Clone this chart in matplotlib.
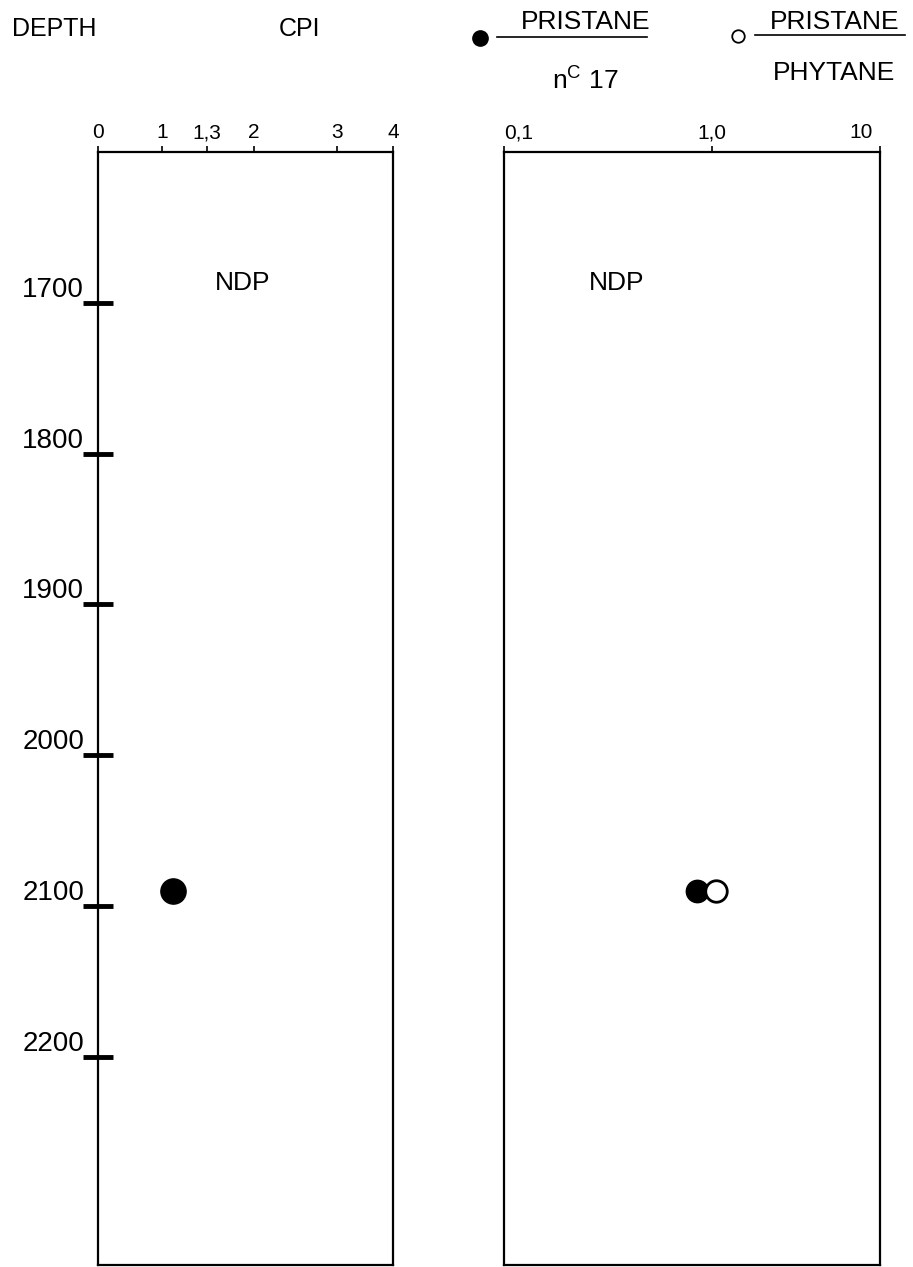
import numpy as np
import matplotlib
matplotlib.use("Agg")
import matplotlib.pyplot as plt
from matplotlib.lines import Line2D
from matplotlib.transforms import ScaledTranslation

plt.rcParams['font.family'] = ['Liberation Sans', 'DejaVu Sans']

# ---- data ----
depth_ticks = [1700, 1800, 1900, 2000, 2100, 2200]
cpi_ticks = [0, 1, 1.3, 2, 3, 4]
cpi_tick_labels = ["0", "1", "1,3", "2", "3", "4"]
ratio_ticks = [0.1, 1.0, 10]
ratio_tick_labels = ["0,1", "1,0", "10"]

sample_depth = [2090]
cpi_values = [1.07]
pristane_nc17 = [0.85]
pristane_phytane = [1.06]

W, H = 913, 1267
fig = plt.figure(figsize=(W / 100, H / 100), dpi=100)

def box(x0, y0, x1, y1):
    return [x0 / W, 1 - y1 / H, (x1 - x0) / W, (y1 - y0) / H]

ax1 = fig.add_axes(box(98, 152, 393, 1265))
ax2 = fig.add_axes(box(504, 152, 880, 1265))

# hand-drawn (uneven) scales of the original, reproduced via interpolation
k_cpi = [0, 1, 1.3, 2, 3, 4]
p_cpi = [0, 64, 109, 156, 239, 295]
ax1.set_xscale('function', functions=(lambda x: np.interp(x, k_cpi, p_cpi),
                                      lambda y: np.interp(y, p_cpi, k_cpi)))
k_log = [-1, 0, 1]
p_log = [0, 208, 376]
ax2.set_xscale('function', functions=(
    lambda x: np.interp(np.log10(np.clip(x, 1e-9, None)), k_log, p_log),
    lambda y: 10 ** np.interp(y, p_log, k_log)))

ax1.set_xlim(0, 4)
ax2.set_xlim(0.1, 10)
for ax in (ax1, ax2):
    ax.set_ylim(2338, 1600)
    for s in ax.spines.values():
        s.set_linewidth(1.6)
    ax.xaxis.tick_top()
    ax.tick_params(axis='x', direction='out', length=4, width=1.2, pad=3)

ax1.set_xticks(cpi_ticks)
ax1.set_xticklabels(cpi_tick_labels, fontsize=15)
ax2.set_xticks(ratio_ticks)
ax2.set_xticklabels(ratio_tick_labels, fontsize=15)
ax2.xaxis.set_minor_locator(matplotlib.ticker.NullLocator())
ax2.xaxis.set_minor_formatter(matplotlib.ticker.NullFormatter())
labs = ax2.get_xticklabels()
labs[0].set_ha('left')
labs[2].set_ha('right')
labs[2].set_transform(labs[2].get_transform() +
                      ScaledTranslation(-7 / 100, 0, fig.dpi_scale_trans))

ax1.set_yticks(depth_ticks)
ax1.set_yticklabels([str(d) for d in depth_ticks])
ax1.tick_params(axis='y', direction='inout', length=22, width=3.5,
                labelsize=20, pad=-1, right=False)
for lab in ax1.get_yticklabels():
    lab.set_va('bottom')
ax2.set_yticks([])

# data marks
ax1.scatter(cpi_values, sample_depth, s=330, color='black', zorder=3)
ax2.scatter(pristane_nc17, sample_depth, s=260, color='black', zorder=3)
ax2.scatter(pristane_phytane, sample_depth, s=240, facecolor='white',
            edgecolor='black', linewidth=2, zorder=3)

ax1.text(0.49, 0.882, "NDP", transform=ax1.transAxes, ha='center', va='center', fontsize=19)
ax2.text(0.30, 0.882, "NDP", transform=ax2.transAxes, ha='center', va='center', fontsize=19)

# header
def ft(x, y, s, **kw):
    fig.text(x / W, 1 - y / H, s, **kw)

ft(12, 29, "DEPTH", fontsize=18, va='center', ha='left')
ft(300, 29, "CPI", fontsize=18, va='center', ha='center')
ft(586, 22, "PRISTANE", fontsize=19, va='center', ha='center')
ft(585, 80, r"n$^{\mathregular{C}}$ 17", fontsize=19, va='center', ha='center')
ft(835, 22, "PRISTANE", fontsize=19, va='center', ha='center')
ft(834, 73, "PHYTANE", fontsize=19, va='center', ha='center')

fig.add_artist(Line2D([497 / W, 647 / W], [1 - 37 / H] * 2, color='black', lw=1.2))
fig.add_artist(Line2D([755 / W, 905 / W], [1 - 35 / H] * 2, color='black', lw=1.2))
fig.add_artist(Line2D([480 / W], [1 - 38 / H], marker='o', ms=11, color='black', lw=0))
fig.add_artist(Line2D([738 / W], [1 - 36 / H], marker='o', ms=9, mfc='white',
                      mec='black', mew=1.3, lw=0))

fig.savefig("out.png", dpi=100)
